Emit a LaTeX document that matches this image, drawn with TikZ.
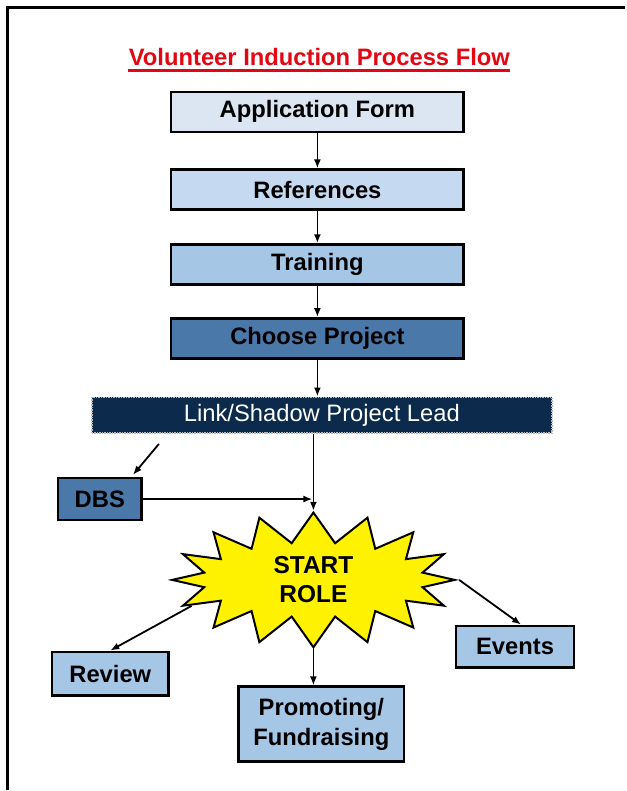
\documentclass[tikz,border=0pt]{standalone}
\usepackage{fontspec}
\setmainfont{Liberation Sans}
\usetikzlibrary{arrows.meta,positioning,shapes.symbols}

\definecolor{titlered}{HTML}{E30613}
\definecolor{appblue}{HTML}{DCE6F2}
\definecolor{refblue}{HTML}{C5D9F1}
\definecolor{trainblue}{HTML}{A6C6E6}
\definecolor{steelblue}{HTML}{4A78A8}
\definecolor{leadnavy}{HTML}{0B2A4C}

\begin{document}
\begin{tikzpicture}[x=1pt, y=-1pt, thick]

	\tikzstyle{stepbox}=[rectangle, draw=black, line width=2.5pt, text=black, font=\bfseries\fontsize{23.8}{28}\selectfont, minimum width=293pt, minimum height=40pt]
	\tikzstyle{leadbox}=[rectangle, fill=leadnavy, draw=gray!55, densely dotted, line width=1.5pt, text=white, font=\fontsize{23.8}{28}\selectfont, minimum width=461pt, minimum height=36pt]
	\tikzstyle{taskbox}=[rectangle, draw=black, line width=2.5pt, fill=trainblue, text=black, align=center, font=\bfseries\fontsize{23.8}{30}\selectfont]
	\tikzstyle{burst}=[starburst, starburst points=16, starburst point height=30pt, random starburst=0, fill=yellow, draw=black, line width=2pt, align=center, font=\bfseries\fontsize{24.5}{29}\selectfont, minimum width=283pt, minimum height=127pt]
	\tikzstyle{flow}=[-{Latex[length=9pt, width=7pt]}, line width=1.8pt, black]

	\fill[white] (0,0) rectangle (626,791);
	% page frame
	\draw[line width=3pt] (8,791) -- (8,8);
	\draw[line width=3pt] (6.5,8) -- (626,8);

	\node[anchor=base, inner sep=0pt, text=titlered, font=\bfseries\fontsize{23.8}{28}\selectfont] (ttl) at (320,66) {Volunteer Induction Process Flow};
	\draw[titlered, line width=2.4pt] ([yshift=-4.5pt]ttl.base west) -- ([yshift=-4.5pt]ttl.base east);

	\node[stepbox, fill=appblue]   (app)    at (318,112) {Application Form};
	\node[stepbox, fill=refblue]   (refs)   at (318,190) {References};
	\node[stepbox, fill=trainblue] (train)  at (318,265) {Training};
	\node[stepbox, fill=steelblue] (choose) at (318,339) {Choose Project};
	\node[leadbox] (lead) at (322.5,416) {Link/Shadow Project Lead};

	\node[taskbox, fill=steelblue, minimum width=84pt, minimum height=42pt] (dbs) at (100,500) {DBS};
	\node[burst] (sr) at (314,581) {START\\ROLE};

	\node[taskbox, minimum width=117pt, minimum height=44pt] (review) at (110.5,675) {Review};
	\node[taskbox, minimum width=166pt, minimum height=75pt] (prom) at (322,725.5) {Promoting/\\Fundraising};
	\node[taskbox, minimum width=118pt, minimum height=42pt] (events) at (516,648) {Events};

	\coordinate (dbsin) at ([xshift=68pt, yshift=-10pt]lead.south west);
	\coordinate (dbsout) at (313,500);
	\coordinate (rvout) at (192,607);

	\draw[flow] (app) -- (refs);
	\draw[flow] (refs) -- (train);
	\draw[flow] (train) -- (choose);
	\draw[flow] (choose.south) -- (choose.south |- lead.north);
	\draw[flow] (lead.south -| sr.north) -- (sr.north);
	\draw[flow] (dbsin) -- ([xshift=-10pt, yshift=2pt]dbs.north east);
	\draw[flow] (dbs.east) -- (dbsout);
	\draw[flow] (rvout) -- (review.north);
	\draw[flow] (sr.south) -- (sr.south |- prom.north);
	\draw[flow] (sr.east) -- ([xshift=6pt]events.north);
\end{tikzpicture}
\end{document}
